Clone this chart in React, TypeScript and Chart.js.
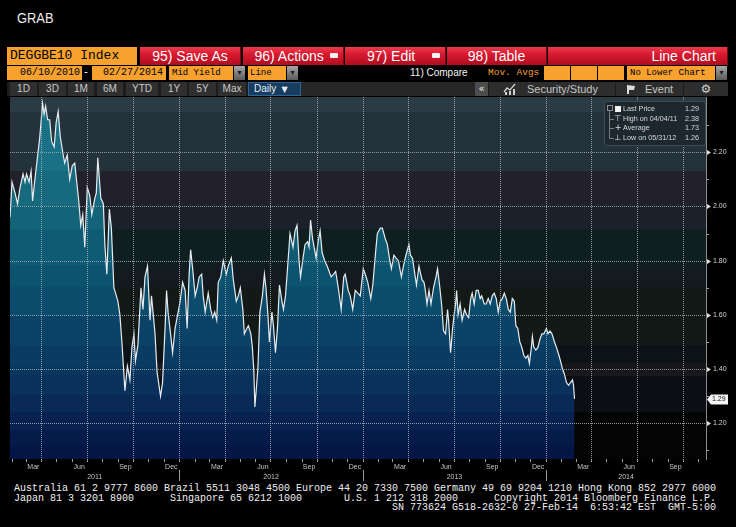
import React, { useEffect, useRef } from "react";
import { Chart, registerables } from "chart.js";

Chart.register(...registerables);

// ---------------- data ----------------
const dates: string[] = [
  "2011-01-29","2011-02-02","2011-02-08","2011-02-13","2011-02-18","2011-02-24","2011-02-28","2011-03-03","2011-03-08","2011-03-12",
  "2011-03-15","2011-03-19","2011-03-24","2011-03-29","2011-04-04","2011-04-07","2011-04-10","2011-04-14","2011-04-18","2011-04-22",
  "2011-04-27","2011-05-01","2011-05-05","2011-05-09","2011-05-15","2011-05-18","2011-05-23","2011-05-28","2011-06-02","2011-06-07",
  "2011-06-15","2011-06-19","2011-06-23","2011-06-27","2011-07-02","2011-07-07","2011-07-11","2011-07-17","2011-07-20","2011-07-23",
  "2011-07-29","2011-08-03","2011-08-06","2011-08-10","2011-08-15","2011-08-19","2011-08-24","2011-08-29","2011-09-01","2011-09-05",
  "2011-09-09","2011-09-15","2011-09-20","2011-09-25","2011-09-29","2011-10-03","2011-10-06","2011-10-11","2011-10-17","2011-10-21",
  "2011-10-25","2011-10-30","2011-11-04","2011-11-07","2011-11-10","2011-11-14","2011-11-18","2011-11-25","2011-11-29","2011-12-04",
  "2011-12-07","2011-12-10","2011-12-15","2011-12-19","2011-12-24","2011-12-28","2012-01-03","2012-01-08","2012-01-13","2012-01-17",
  "2012-01-21","2012-01-24","2012-01-28","2012-02-02","2012-02-06","2012-02-10","2012-02-15","2012-02-18","2012-02-22","2012-02-28",
  "2012-03-04","2012-03-08","2012-03-12","2012-03-16","2012-03-19","2012-03-24","2012-03-29","2012-04-04","2012-04-08","2012-04-14",
  "2012-04-18","2012-04-24","2012-04-28","2012-05-02","2012-05-07","2012-05-10","2012-05-15","2012-05-18","2012-05-23","2012-05-26",
  "2012-05-29","2012-05-31","2012-06-06","2012-06-10","2012-06-15","2012-06-19","2012-06-22","2012-06-26","2012-06-29","2012-07-04",
  "2012-07-07","2012-07-11","2012-07-15","2012-07-19","2012-07-24","2012-07-27","2012-07-31","2012-08-04","2012-08-09","2012-08-15",
  "2012-08-19","2012-08-23","2012-08-27","2012-08-30","2012-09-04","2012-09-08","2012-09-13","2012-09-16","2012-09-19","2012-09-23",
  "2012-09-26","2012-09-30","2012-10-04","2012-10-08","2012-10-12","2012-10-17","2012-10-22","2012-10-26","2012-10-30","2012-11-04",
  "2012-11-08","2012-11-14","2012-11-19","2012-11-24","2012-11-27","2012-12-03","2012-12-07","2012-12-12","2012-12-17","2012-12-22",
  "2012-12-27","2013-01-02","2013-01-06","2013-01-11","2013-01-17","2013-01-21","2013-01-26","2013-01-30","2013-02-05","2013-02-09",
  "2013-02-15","2013-02-19","2013-02-23","2013-02-27","2013-03-04","2013-03-08","2013-03-13","2013-03-19","2013-03-23","2013-03-28",
  "2013-04-03","2013-04-06","2013-04-10","2013-04-14","2013-04-18","2013-04-23","2013-04-29","2013-05-03","2013-05-05","2013-05-09",
  "2013-05-13","2013-05-17","2013-05-22","2013-05-27","2013-05-30","2013-06-03","2013-06-07","2013-06-11","2013-06-15","2013-06-19",
  "2013-06-21","2013-06-25","2013-06-29","2013-07-02","2013-07-05","2013-07-07","2013-07-10","2013-07-14","2013-07-18","2013-07-23",
  "2013-07-27","2013-07-31","2013-08-04","2013-08-07","2013-08-11","2013-08-15","2013-08-19","2013-08-23","2013-08-26","2013-08-31",
  "2013-09-04","2013-09-08","2013-09-12","2013-09-16","2013-09-20","2013-09-24","2013-09-28","2013-10-02","2013-10-06","2013-10-10",
  "2013-10-14","2013-10-18","2013-10-22","2013-10-26","2013-10-30","2013-11-02","2013-11-06","2013-11-10","2013-11-14","2013-11-18",
  "2013-11-22","2013-11-26","2013-11-29","2013-12-03","2013-12-05","2013-12-08","2013-12-12","2013-12-16","2013-12-20","2013-12-24",
  "2013-12-28","2014-01-02","2014-01-05","2014-01-09","2014-01-13","2014-01-18","2014-01-22","2014-01-27","2014-01-30","2014-02-03",
  "2014-02-07","2014-02-11","2014-02-15","2014-02-19","2014-02-23","2014-02-25","2014-02-27"
];

const yields: number[] = [
  1.96,2.09,2.05,2.01,2.07,2.12,2.09,2.12,2.09,2.13,
  2.02,2.09,2.17,2.25,2.38,2.34,2.37,2.32,2.32,2.24,
  2.22,2.31,2.35,2.26,2.19,2.16,2.19,2.10,2.15,2.16,
  2.02,1.93,1.97,1.85,2.07,2.04,1.97,2.03,2.05,2.18,
  2.03,2.01,1.86,1.75,1.99,1.92,1.70,1.67,1.65,1.60,
  1.50,1.32,1.41,1.36,1.48,1.53,1.43,1.49,1.70,1.62,
  1.74,1.78,1.58,1.67,1.61,1.53,1.39,1.30,1.35,1.55,
  1.69,1.61,1.53,1.46,1.55,1.59,1.65,1.72,1.69,1.55,
  1.75,1.84,1.77,1.67,1.70,1.74,1.75,1.67,1.61,1.68,
  1.62,1.59,1.61,1.58,1.72,1.74,1.80,1.75,1.78,1.81,
  1.73,1.65,1.67,1.70,1.62,1.53,1.55,1.56,1.53,1.48,
  1.39,1.26,1.40,1.61,1.67,1.75,1.70,1.60,1.50,1.61,
  1.56,1.46,1.55,1.71,1.65,1.62,1.67,1.77,1.90,1.85,
  1.91,1.93,1.80,1.74,1.81,1.86,1.87,1.85,1.95,1.88,
  1.85,1.81,1.87,1.91,1.83,1.80,1.78,1.76,1.74,1.75,
  1.76,1.69,1.62,1.74,1.75,1.69,1.67,1.62,1.69,1.68,
  1.67,1.77,1.75,1.72,1.66,1.71,1.82,1.90,1.92,1.92,
  1.88,1.86,1.81,1.77,1.82,1.81,1.80,1.74,1.78,1.82,
  1.86,1.82,1.81,1.76,1.71,1.78,1.73,1.72,1.70,1.64,
  1.69,1.64,1.70,1.74,1.77,1.71,1.64,1.54,1.53,1.62,
  1.58,1.46,1.55,1.60,1.64,1.69,1.60,1.64,1.58,1.62,
  1.60,1.59,1.66,1.68,1.64,1.69,1.69,1.66,1.67,1.64,
  1.64,1.66,1.64,1.67,1.68,1.66,1.61,1.65,1.66,1.68,
  1.66,1.62,1.61,1.66,1.65,1.56,1.55,1.50,1.48,1.45,
  1.44,1.45,1.42,1.48,1.52,1.48,1.47,1.48,1.51,1.53,
  1.53,1.55,1.53,1.54,1.53,1.50,1.48,1.45,1.43,1.40,
  1.38,1.35,1.34,1.35,1.36,1.34,1.29
];

const xAxisStart = "2011-01-29";
const xAxisEnd = "2014-11-16";
const yMin = 1.068;
const yMax = 2.404;
const yTicks = [1.1, 1.2, 1.3, 1.4, 1.5, 1.6, 1.7, 1.8, 1.9, 2.0, 2.1, 2.2, 2.3];
const monthLabels = ["Mar", "Jun", "Sep", "Dec"];
const monthLabelIndex = [2, 5, 8, 11];
const years = [2011, 2012, 2013, 2014];
const lastPrice = 1.29;
const legendLabels = ["Last Price", "High on 04/04/11", "Average", "Low on 05/31/12"];
const legendValues = ["1.29", "2.38", "1.73", "1.26"];

// ---------------- helpers ----------------
const DAY = 86400000;
const EPOCH = Date.UTC(2012, 0, 1);
const dayNum = (s: string) => {
  const [y, m, d] = s.split("-").map(Number);
  return (Date.UTC(y, m - 1, d) - EPOCH) / DAY;
};
const msDay = (y: number, m: number, d: number) => (Date.UTC(y, m, d) - EPOCH) / DAY;
const isMajor = (v: number) => Math.round(v * 10) % 2 === 0;

type XDef = { value: number; label: string | string[]; grid: boolean; mark: boolean };

function buildXTicks(min: number, max: number): XDef[] {
  const defs: XDef[] = [];
  for (const y of years) {
    for (let m = 0; m < 12; m++) {
      const v = msDay(y, m, 1);
      if (v < min || v > max) continue;
      defs.push({ value: v, label: "", grid: m % 3 === 0, mark: true });
    }
    monthLabels.forEach((lab, i) => {
      const mi = monthLabelIndex[i];
      const v = (msDay(y, mi, 1) + msDay(y, mi + 1, 1)) / 2;
      if (v < min || v > max) return;
      defs.push({ value: v, label: lab, grid: false, mark: false });
    });
    const s = Math.max(min, msDay(y, 0, 1));
    const e = Math.min(max, msDay(y + 1, 0, 1));
    defs.push({ value: (s + e) / 2 + 0.25, label: ["", String(y)], grid: false, mark: false });
  }
  defs.sort((a, b) => a.value - b.value);
  return defs;
}

// styling bands (pixel offsets from plot top, out of a 362px tall plot)
const BG_BANDS: [number, number, string][] = [
  [0, 15, "#2b3b43"], [15, 74, "#23323b"], [74, 109, "#21202b"], [109, 132, "#1c202a"],
  [132, 168, "#0f1f1f"], [168, 190, "#131b21"], [190, 248, "#121916"], [248, 266, "#0c1216"],
  [266, 279, "#18181a"], [279, 315, "#0b0e15"], [315, 362, "#040404"],
];
const FILL_BANDS: [number, number, string][] = [
  [0, 15, "#1f788b"], [15, 74, "#1a7084"], [74, 109, "#176a7e"], [109, 132, "#136379"],
  [132, 168, "#0f5b74"], [168, 190, "#0c536f"], [190, 218, "#0b4b6b"], [218, 248, "#0a4367"],
  [248, 269, "#0a3c63"], [269, 278, "#0a375f"], [278, 298, "#0a305c"], [298, 315, "#092957"],
  [315, 333, "#072150"], [333, 348, "#051b4a"], [348, 362, "#041645"],
];
const GRID = "rgba(165,175,186,0.85)";
const TICKC = "#9a9a9a";
const ORANGE = "#f7a12f";
const RED = "linear-gradient(to bottom, #ee3a4c 0%, #d81a30 40%, #b00c1f 100%)";

function dottedV(ctx: any, x: number, y0: number, y1: number) {
  for (let y = Math.ceil(y0); y < y1; y += 2) ctx.fillRect(x, y, 1, 1);
}
function dottedH(ctx: any, y: number, x0: number, x1: number) {
  for (let x = Math.ceil(x0); x < x1; x += 2) ctx.fillRect(x, y, 1, 1);
}

const makePlugin = (xDefs: XDef[]) => ({
  id: "bbgDecor",
  beforeDraw(chart: any) {
    const { ctx, chartArea: a } = chart;
    const h = a.bottom - a.top;
    ctx.save();
    for (const [t0, t1, c] of BG_BANDS) {
      ctx.fillStyle = c;
      ctx.fillRect(a.left, a.top + (t0 / 362) * h, a.right - a.left, ((t1 - t0) / 362) * h + 0.5);
    }
    ctx.restore();
  },
  afterDatasetsDraw(chart: any) {
    const { ctx, chartArea: a } = chart;
    const ys = chart.scales.y;
    const xs = chart.scales.x;
    ctx.save();
    // dotted grid drawn as single pixels
    ctx.fillStyle = GRID;
    for (const d of xDefs) {
      if (!d.grid) continue;
      const x = Math.round(xs.getPixelForValue(d.value));
      dottedV(ctx, x, a.top, a.bottom);
    }
    for (const v of yTicks) {
      if (!isMajor(v)) continue;
      const y = Math.round(ys.getPixelForValue(v));
      dottedH(ctx, y, a.left, a.right);
    }
    // tick marks
    ctx.fillStyle = TICKC;
    for (const d of xDefs) {
      if (!d.mark) continue;
      const x = Math.round(xs.getPixelForValue(d.value));
      ctx.fillRect(x, a.bottom, 1, 3);
    }
    for (const v of yTicks) {
      if (isMajor(v)) continue;
      const y = Math.round(ys.getPixelForValue(v));
      ctx.fillRect(a.right, y, 3, 1);
    }
    ctx.restore();
  },
  afterDraw(chart: any) {
    const { ctx, chartArea: a } = chart;
    const ys = chart.scales.y;
    const xs = chart.scales.x;
    ctx.save();
    ctx.fillStyle = "#dedede";
    for (const v of yTicks) {
      if (!isMajor(v)) continue;
      const y = Math.round(ys.getPixelForValue(v)) + 0.5;
      ctx.beginPath();
      ctx.moveTo(a.right + 1, y - 2.5);
      ctx.lineTo(a.right + 5, y);
      ctx.lineTo(a.right + 1, y + 2.5);
      ctx.closePath();
      ctx.fill();
    }
    // last price tag
    const ly = Math.round(ys.getPixelForValue(lastPrice)) + 0.5;
    ctx.beginPath();
    ctx.moveTo(a.right + 1, ly);
    ctx.lineTo(a.right + 5, ly - 5);
    ctx.lineTo(a.right + 22, ly - 5);
    ctx.lineTo(a.right + 22, ly + 5);
    ctx.lineTo(a.right + 5, ly + 5);
    ctx.closePath();
    ctx.fillStyle = "#f4f4f4";
    ctx.fill();
    ctx.fillStyle = "#111";
    ctx.font = '7px "Liberation Sans"';
    ctx.textBaseline = "middle";
    ctx.textAlign = "left";
    ctx.fillText(lastPrice.toFixed(2), a.right + 6, ly);
    // year separators
    ctx.fillStyle = "#9a9a9a";
    for (const y of years.slice(1)) {
      const x = Math.round(xs.getPixelForValue(msDay(y, 0, 1)));
      ctx.fillRect(x, a.bottom + 11, 1, 11);
    }
    ctx.restore();
  },
});

const S = (l: number, t: number, w: number, h: number, extra: any = {}): any => ({
  position: "absolute", left: l, top: t, width: w, height: h, boxSizing: "border-box", ...extra,
});

function ChartCanvas() {
  const ref = useRef<HTMLCanvasElement | null>(null);
  useEffect(() => {
    if (!ref.current) return;
    const xmin = dayNum(xAxisStart);
    const xmax = dayNum(xAxisEnd);
    const xDefs = buildXTicks(xmin, xmax);
    const points = dates.map((d, i) => ({ x: dayNum(d), y: yields[i] }));
    const fill = (c: any) => {
      const chart = c.chart;
      const a = chart.chartArea;
      if (!a) return "#0a3c63";
      const g = chart.ctx.createLinearGradient(0, a.top, 0, a.bottom);
      for (const [t0, t1, col] of FILL_BANDS) {
        g.addColorStop(Math.min(1, t0 / 362), col);
        g.addColorStop(Math.min(1, t1 / 362), col);
      }
      return g;
    };
    const noPad = (s: any) => {
      s.paddingTop = 0;
      s.paddingBottom = 0;
      s.paddingLeft = 0;
      s.paddingRight = 0;
    };
    const chart = new Chart(ref.current, {
      type: "line",
      data: {
        datasets: [
          {
            data: points,
            borderColor: "#e6ecef",
            borderWidth: 1.2,
            pointRadius: 0,
            tension: 0,
            fill: "start",
            backgroundColor: fill,
          },
        ],
      },
      options: {
        animation: false,
        responsive: false,
        devicePixelRatio: 1,
        events: [],
        layout: { padding: { left: 10, top: 0, right: 0, bottom: 0 } },
        plugins: { legend: { display: false }, tooltip: { enabled: false } },
        scales: {
          x: {
            type: "linear",
            position: "bottom",
            min: xmin,
            max: xmax,
            afterBuildTicks: (s: any) => { s.ticks = xDefs.map((d) => ({ value: d.value })); },
            afterFit: (s: any) => { s.height = 23; noPad(s); },
            ticks: {
              autoSkip: false,
              maxRotation: 0,
              minRotation: 0,
              padding: 0,
              color: "#c4c4c4",
              font: { family: "Liberation Sans", size: 7, lineHeight: 1.4 },
              callback: (_v: any, i: number) => (xDefs[i] ? xDefs[i].label : ""),
            },
            grid: { display: false, drawTicks: true, tickLength: 3 },
            border: { display: false },
          },
          y: {
            type: "linear",
            position: "right",
            min: yMin,
            max: yMax,
            afterBuildTicks: (s: any) => { s.ticks = yTicks.map((v) => ({ value: v })); },
            afterFit: (s: any) => { s.width = 30; noPad(s); },
            ticks: {
              padding: 4,
              color: "#d2d2d2",
              font: { family: "Liberation Sans", size: 7 },
              callback: (_v: any, i: number) => (isMajor(yTicks[i]) ? yTicks[i].toFixed(2) : ""),
            },
            grid: { display: false, drawTicks: true, tickLength: 3 },
            border: { display: true, color: "#8c8c8c", width: 1 },
          },
        },
      },
      plugins: [makePlugin(xDefs)],
    } as any);
    return () => chart.destroy();
  }, []);
  return (
    <canvas
      ref={ref}
      width={736}
      height={385}
      style={{ position: "absolute", left: 0, top: 97, width: 736, height: 385 }}
    />
  );
}

const redBtn = (l: number, w: number, text: string, drop = false, align = "center", pad = 0) => (
  <div
    style={S(l, 47, w, 18, {
      background: RED,
      color: "#fff",
      font: '14px "Liberation Sans"',
      lineHeight: "18px",
      whiteSpace: "pre",
      textAlign: align,
      paddingRight: pad,
      borderRight: "1px solid #7a0612",
    })}
  >
    {text}
    {drop ? (
      <span style={{ position: "absolute", right: 5, top: 6, width: 8, height: 5, background: "#f2f2f2", borderRadius: 1 }} />
    ) : null}
  </div>
);

const orangeField = (l: number, w: number, text: string, font: string, align = "left", pad = 2) => (
  <div
    style={S(l, 66, w, 14, {
      background: ORANGE,
      color: "#000",
      font,
      lineHeight: "14px",
      whiteSpace: "pre",
      textAlign: align,
      paddingLeft: align === "left" ? pad : 0,
      paddingRight: align === "right" ? pad : 0,
    })}
  >
    {text}
  </div>
);

const dropBtn = (l: number) => (
  <div
    style={S(l, 66, 11, 14, {
      background: "linear-gradient(to bottom, #a6a6a6, #5a5a5a)",
      color: "#1a1a1a",
      font: '8px "DejaVu Sans"',
      lineHeight: "14px",
      textAlign: "center",
    })}
  >
    ▾
  </div>
);

const grayBtn = (l: number, w: number, text: string) => (
  <div
    style={S(l, 82, w, 14, {
      background: "#2f2f2f",
      color: "#c9c9c9",
      font: '10px "Liberation Sans"',
      lineHeight: "14px",
      textAlign: "center",
    })}
  >
    {text}
  </div>
);

const line1 =
  "Australia 61 2 9777 8600 Brazil 5511 3048 4500 Europe 44 20 7330 7500 Germany 49 69 9204 1210 Hong Kong 852 2977 6000";
const line2 =
  "Japan 81 3 3201 8900" + " ".repeat(6) + "Singapore 65 6212 1000" + " ".repeat(7) + "U.S. 1 212 318 2000" +
  " ".repeat(6) + "Copyright 2014 Bloomberg Finance L.P.";
const line3 = " ".repeat(63) + "SN 773624 G518-2632-0 27-Feb-14  6:53:42 EST  GMT-5:00";

export default function App() {
  const rowTops = [104, 113.5, 123, 132.5];
  return (
    <div style={{ position: "fixed", left: 0, top: 0, width: 736, height: 527, background: "#000", overflow: "hidden" }}>
      <div
        style={S(17, 9, 60, 18, {
          color: "#ececec",
          font: '15px "Liberation Sans"',
          lineHeight: "18px",
          transform: "scaleX(0.86)",
          transformOrigin: "left",
        })}
      >
        GRAB
      </div>

      {/* row 1 */}
      <div
        style={S(7, 47, 130, 18, {
          background: ORANGE,
          color: "#000",
          font: '13px "Liberation Mono"',
          lineHeight: "18px",
          paddingLeft: 3,
          whiteSpace: "pre",
        })}
      >
        DEGGBE10 Index
      </div>
      {redBtn(140, 101, "95) Save As")}
      {redBtn(243, 101, "96) Actions  ", true)}
      {redBtn(345, 101, "  97) Edit    ", true)}
      {redBtn(447, 100, "98) Table")}
      {redBtn(548, 180, "Line Chart", false, "right", 11)}

      {/* row 2 */}
      {orangeField(7, 75, "06/10/2010", '10px "Liberation Mono"', "right", 2)}
      <div style={S(83, 66, 8, 14, { color: "#fff", font: '10px "Liberation Mono"', lineHeight: "14px" })}>-</div>
      {orangeField(92, 74, "02/27/2014", '10px "Liberation Mono"', "right", 3)}
      {orangeField(169, 64, "Mid Yield", '9px "Liberation Mono"', "left", 3)}
      {dropBtn(234)}
      {orangeField(248, 38, "Line", '9px "Liberation Mono"', "left", 2)}
      {dropBtn(287)}
      <div style={S(410, 66, 70, 14, { color: "#f2f2f2", font: '10px "Liberation Sans"', lineHeight: "14px", whiteSpace: "pre" })}>
        11) Compare
      </div>
      <div style={S(488, 66, 56, 14, { color: ORANGE, font: '9.5px "Liberation Mono"', lineHeight: "14px", whiteSpace: "pre" })}>
        Mov. Avgs
      </div>
      <div style={S(544, 66, 26, 14, { background: ORANGE })} />
      <div style={S(571, 66, 26, 14, { background: ORANGE })} />
      <div style={S(598, 66, 26, 14, { background: ORANGE })} />
      {orangeField(627, 88, "No Lower Chart", '9px "Liberation Mono"', "left", 3)}
      {dropBtn(716)}

      {/* row 3 */}
      <div style={S(7, 82, 721, 14, { background: "#1c1c1c" })} />
      <div style={S(300, 82, 175, 14, { background: "#262626" })} />
      {grayBtn(10, 27, "1D")}
      {grayBtn(39, 27, "3D")}
      {grayBtn(68, 26, "1M")}
      {grayBtn(97, 26, "6M")}
      {grayBtn(126, 32, "YTD")}
      {grayBtn(161, 26, "1Y")}
      {grayBtn(189, 27, "5Y")}
      {grayBtn(218, 28, "Max")}
      <div
        style={S(248, 82, 53, 14, {
          background: "#163c60",
          border: "1px solid #2f6492",
          color: "#e8eef4",
          font: '10px "Liberation Sans"',
          lineHeight: "12px",
          paddingLeft: 5,
          whiteSpace: "pre",
        })}
      >
        Daily <span style={{ font: '8px "DejaVu Sans"' }}> ▼</span>
      </div>
      <div style={S(475, 82, 13, 14, { background: "#4c4c4c", color: "#eee", font: '10px "DejaVu Sans"', lineHeight: "13px", textAlign: "center" })}>«</div>
      <div style={S(489, 82, 126, 14, { background: "#2d2d2d", color: "#c6c6c6", font: '11px "Liberation Sans"', lineHeight: "14px", paddingLeft: 38 })}>
        Security/Study
      </div>
      <svg style={S(503, 83, 14, 12)} width={14} height={12}>
        <polyline points="1,9 4,5 7,7 12,1" fill="none" stroke="#cfcfcf" strokeWidth={1.3} />
        <rect x={2} y={9} width={2} height={3} fill="#cfcfcf" />
        <rect x={6} y={8} width={2} height={4} fill="#cfcfcf" />
        <rect x={10} y={6} width={2} height={6} fill="#cfcfcf" />
      </svg>
      <div style={S(616, 82, 67, 14, { background: "#2d2d2d", color: "#c6c6c6", font: '11px "Liberation Sans"', lineHeight: "14px", paddingLeft: 29 })}>
        Event
      </div>
      <svg style={S(626, 85, 10, 9)} width={10} height={9}>
        <path d="M1,0 L9,1 L8,5 L3,5 L3,9 L1,9 Z" fill="#dcdcdc" />
      </svg>
      <div style={S(684, 82, 44, 14, { background: "#2d2d2d", color: "#d0d0d0", font: '12px "DejaVu Sans"', lineHeight: "14px", textAlign: "center" })}>⚙</div>

      <ChartCanvas />

      {/* legend box */}
      <div style={S(604, 101, 102, 45, { background: "rgba(28,38,46,0.96)", border: "1px solid #3e4a55", borderRadius: 3 })} />
      <div style={S(607, 105, 6, 6, { border: "1px solid #8a8a8a" })} />
      <div style={S(609, 111, 1, 27, { background: "#7a7a7a" })} />
      {[1, 2, 3].map((i) => (
        <div key={"br" + i} style={S(609, rowTops[i] + 5, 5, 1, { background: "#7a7a7a" })} />
      ))}
      <div style={S(615, 106, 6, 6, { background: "#f4f4f4" })} />
      {["", "⊤", "+", "⊥"].map((g, i) =>
        i === 0 ? null : (
          <div key={"ic" + i} style={S(614, rowTops[i], 8, 10, { color: "#e0e0e0", font: '8px "DejaVu Sans"', lineHeight: "10px", textAlign: "center" })}>
            {g}
          </div>
        )
      )}
      {legendLabels.map((lab, i) => (
        <div
          key={"lg" + i}
          style={S(623, rowTops[i], 76, 10, {
            color: "#dadada",
            font: '7.2px "Liberation Sans"',
            lineHeight: "10px",
            display: "flex",
            justifyContent: "space-between",
            whiteSpace: "pre",
          })}
        >
          <span>{lab}</span>
          <span>{legendValues[i]}</span>
        </div>
      ))}

      {/* footer */}
      <div
        style={S(14, 484, 720, 32, {
          color: "#efefef",
          font: '10px "Liberation Mono"',
          lineHeight: "9.6px",
          whiteSpace: "pre",
        })}
      >
        {line1 + "\n" + line2 + "\n" + line3}
      </div>
    </div>
  );
}
